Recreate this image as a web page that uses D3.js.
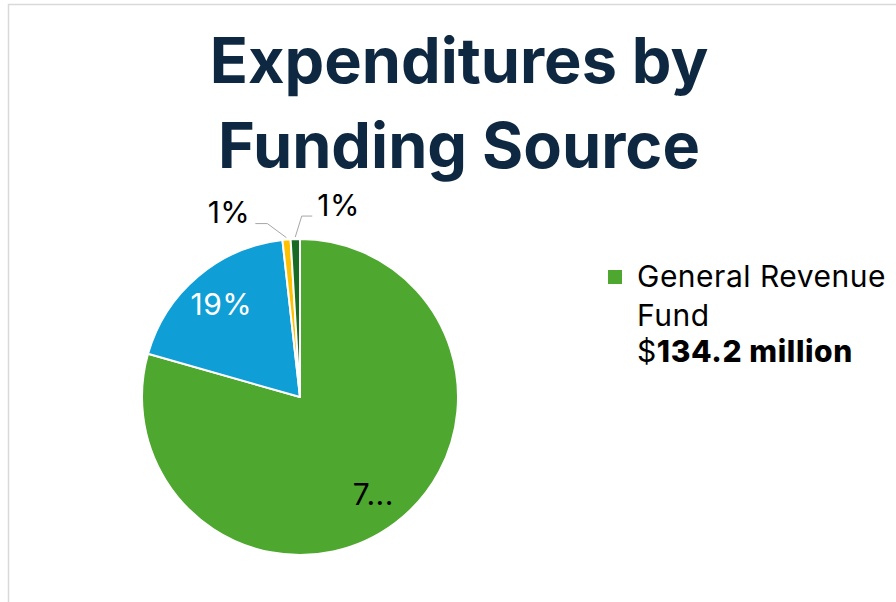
<!DOCTYPE html>
<html>
<head>
<meta charset="utf-8">
<script src="https://cdn.jsdelivr.net/npm/d3@7"></script>
<style>
  html, body { margin: 0; padding: 0; background: #fff; }
  svg { display: block; }
</style>
</head>
<body>
<div id="chart"></div>
<script>
// data
const categories = ['General Revenue Fund', 'Federal Funds', 'Other Funds', 'Interagency Contracts']
const amounts = [134.2, 31.8, 1.4, 1.6]   // $ million
const colors = ['#4ea72e', '#0f9ed5', '#ffc000', '#196b24']
const titleLines = ['Expenditures by', 'Funding Source']

const width = 896
const height = 602
const cx = 300
const cy = 397
const radius = 158

const svg = d3.select('#chart')
  .append('svg')
  .attr('width', width)
  .attr('height', height)

// chart area border
svg.append('rect')
  .attr('x', 8.5)
  .attr('y', 4.5)
  .attr('width', width + 10)
  .attr('height', height + 10)
  .attr('fill', 'none')
  .attr('stroke', '#d9d9d9')
  .attr('stroke-width', 1.5)

// title
svg.append('g')
  .selectAll('text')
  .data(titleLines)
  .join('text')
  .attr('x', 459)
  .attr('y', (d, i) => 83 + i * 85)
  .attr('text-anchor', 'middle')
  .attr('font-family', 'Inter, sans-serif')
  .attr('font-weight', 700)
  .attr('font-size', 63)
  .attr('fill', '#0e2841')
  .text((d) => d)

// pie
const total = d3.sum(amounts)
const pie = d3.pie().sort(null).value((d) => d)
const arcs = pie(amounts)
const arc = d3.arc().innerRadius(0).outerRadius(radius)
const labelArc = d3.arc().innerRadius(radius * 0.77).outerRadius(radius * 0.77)
const outerArc = d3.arc().innerRadius(radius + 2).outerRadius(radius + 2)

const g = svg.append('g').attr('transform', `translate(${cx},${cy})`)

g.selectAll('path')
  .data(arcs)
  .join('path')
  .attr('d', arc)
  .attr('fill', (d, i) => colors[i])
  .attr('stroke', '#fff')
  .attr('stroke-width', 2)
  .attr('stroke-linejoin', 'round')

const pctText = (d) => Math.round(d.data / total * 100) + '%'

// inside labels (big slices)
const inside = arcs.filter((d) => d.data / total > 0.05)
g.selectAll('text.inside')
  .data(inside)
  .join('text')
  .attr('class', 'inside')
  .attr('transform', (d) => `translate(${labelArc.centroid(d)})`)
  .attr('dy', '0.36em')
  .attr('text-anchor', 'middle')
  .attr('font-family', 'Inter, sans-serif')
  .attr('font-size', 30)
  .attr('letter-spacing', 0.5)
  .attr('fill', (d) => d.index === 0 ? '#000' : '#fff')
  // the largest label does not fit its box in the original and is cut off
  .text((d) => d.index === 0 ? pctText(d).slice(0, 1) + '...' : pctText(d))

// outside labels with leader lines (small slices)
const outside = arcs.filter((d) => d.data / total <= 0.05)
const elbowOffset = [[-19, -14], [6.5, -21]]
const tailLength = [-12, 10.5]

outside.forEach((d, k) => {
  const p0 = outerArc.centroid(d)
  const p1 = [p0[0] + elbowOffset[k][0], p0[1] + elbowOffset[k][1]]
  const p2 = [p1[0] + tailLength[k], p1[1]]
  g.append('polyline')
    .attr('points', [p0, p1, p2].map((p) => p.join(',')).join(' '))
    .attr('fill', 'none')
    .attr('stroke', '#a6a6a6')
    .attr('stroke-width', 1)
  const leftSide = tailLength[k] < 0
  g.append('text')
    .attr('x', p2[0] + (leftSide ? -5 : 5))
    .attr('y', p2[1] - 0.5)
    .attr('text-anchor', leftSide ? 'end' : 'start')
    .attr('font-family', 'Inter, sans-serif')
    .attr('font-size', 30)
    .attr('letter-spacing', 0.5)
    .attr('fill', '#000')
    .text(pctText(d))
})

// legend (only the first entry fits in the original)
const legend = svg.append('g').attr('transform', 'translate(608,270)')
legend.append('rect')
  .attr('width', 14)
  .attr('height', 14)
  .attr('fill', colors[0])

const nameWords = categories[0].split(' ')
const legendLines = [nameWords.slice(0, 2).join(' '), nameWords.slice(2).join(' ')]
legend.selectAll('text.name')
  .data(legendLines)
  .join('text')
  .attr('class', 'name')
  .attr('x', 29)
  .attr('y', (d, i) => 16.7 + i * 39.3)
  .attr('font-family', 'Inter, sans-serif')
  .attr('font-size', 30)
  .attr('letter-spacing', 0.5)
  .attr('fill', '#000')
  .text((d) => d)

const amt = legend.append('text')
  .attr('x', 29)
  .attr('y', 91.7)
  .attr('font-family', 'Inter, sans-serif')
  .attr('font-size', 30)
  .attr('letter-spacing', 0.6)
  .attr('fill', '#000')
amt.append('tspan').text('$')
amt.append('tspan').attr('font-weight', 800).text(`${amounts[0]} million`)
</script>
</body>
</html>
